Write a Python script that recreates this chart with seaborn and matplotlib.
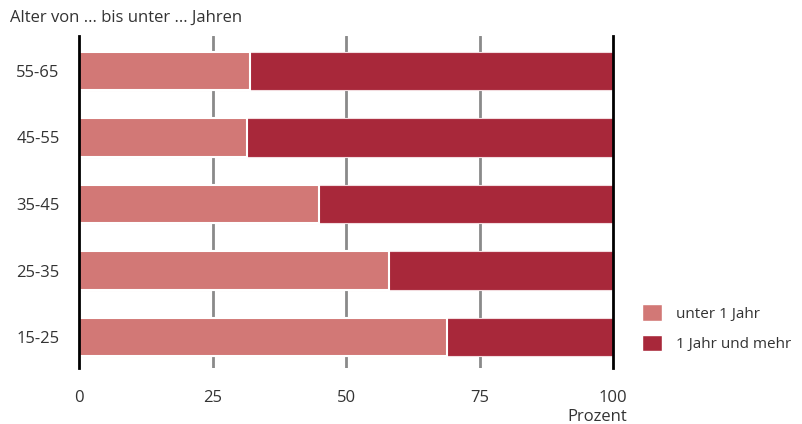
import numpy as np
import pandas as pd
import matplotlib
matplotlib.use('Agg')
import matplotlib.pyplot as plt
import seaborn as sns
from matplotlib.patches import Patch

# values (percent)
ages = ['55-65', '45-55', '35-45', '25-35', '15-25']
unter_1_jahr = [32.0, 31.5, 45.0, 58.0, 69.0]
ein_jahr_mehr = [100 - v for v in unter_1_jahr]
xticks = [0, 25, 50, 75, 100]

light = '#D27876'
dark = '#A8283A'

sns.set_style('white')
plt.rcParams['font.family'] = ['Open Sans', 'DejaVu Sans']

df = pd.DataFrame({'age': ages, 'unter': unter_1_jahr, 'mehr': ein_jahr_mehr})
df['total'] = df['unter'] + df['mehr']

fig = plt.figure(figsize=(8.02, 4.24), dpi=100)
ax = fig.add_axes([79/802, 1 - 368/424, (613-79)/802, (368-36)/424])

# grid behind bars
for t in xticks[1:-1]:
    ax.axvline(t, color='#8a8a8a', lw=2, zorder=0)

# stacked: full bar in dark, light part on top
sns.barplot(data=df, y='age', x='total', color=dark, width=0.58, orient='h',
            saturation=1, edgecolor='#f2dcdf', linewidth=0.8, ax=ax, zorder=2)
sns.barplot(data=df, y='age', x='unter', color=light, width=0.58, orient='h',
            saturation=1, edgecolor='white', linewidth=1.5, ax=ax, zorder=3)

ax.set_xlim(0, 100)
ax.set_ylim(4.466, -0.526)
ax.set_xticks(xticks)
ax.set_xticklabels([str(t) for t in xticks], fontsize=12, color='#333333')
ax.tick_params(axis='x', length=0, pad=16)
ax.tick_params(axis='y', length=0, pad=14, labelsize=12, labelcolor='#333333')
ax.set_xlabel('')
ax.set_ylabel('')
for s in ['top', 'bottom']:
    ax.spines[s].set_visible(False)
for s in ['left', 'right']:
    ax.spines[s].set_color('black')
    ax.spines[s].set_linewidth(2)
    ax.spines[s].set_zorder(5)

fig.text(10/802, 1 - 18/424, 'Alter von ... bis unter ... Jahren', fontsize=12,
         color='#333333', va='center', ha='left')
fig.text(597/802, 1 - 417/424, 'Prozent', fontsize=12, color='#333333',
         va='center', ha='center')

handles = [Patch(facecolor=light, label='unter 1 Jahr'),
           Patch(facecolor=dark, label='1 Jahr und mehr')]
fig.legend(handles=handles, loc='upper left', bbox_to_anchor=(630/802, 1 - 292/424),
           frameon=False, fontsize=11, handlelength=1.3, handleheight=1.3,
           labelspacing=0.85, handletextpad=0.9, labelcolor='#333333',
           borderpad=0.3)

fig.savefig('out.png', dpi=100)
